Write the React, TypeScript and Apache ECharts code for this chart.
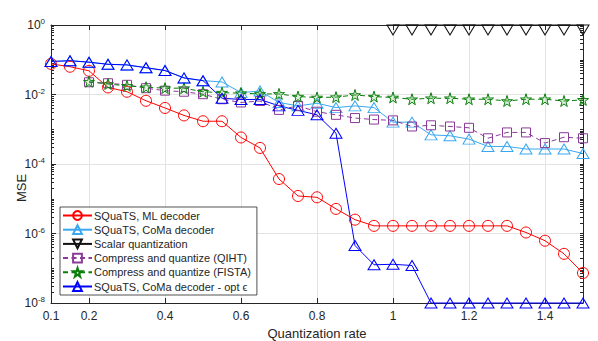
import React, { useEffect, useRef } from "react";
import * as echarts from "echarts";

const xFull = [0.1, 0.15, 0.2, 0.25, 0.3, 0.35, 0.4, 0.45, 0.5, 0.55, 0.6, 0.65, 0.7, 0.75, 0.8, 0.85, 0.9, 0.95, 1.0, 1.05, 1.1, 1.15, 1.2, 1.25, 1.3, 1.35, 1.4, 1.45, 1.5];
const xFrom02 = xFull.slice(2);
const xScalar = [1.0, 1.05, 1.1, 1.15, 1.2, 1.25, 1.3, 1.35, 1.4, 1.45, 1.5];

const mlDecoder = [0.076, 0.063, 0.048, 0.016, 0.012, 0.0066, 0.0041, 0.0025, 0.0017, 0.0017, 5.8e-4, 2.9e-4, 3.7e-5, 1.2e-5, 1.1e-5, 5.1e-6, 2.5e-6, 1.66e-6, 1.66e-6, 1.66e-6, 1.66e-6, 1.66e-6, 1.66e-6, 1.66e-6, 1.66e-6, 1.07e-6, 6.2e-7, 2.6e-7, 7.3e-8];
const comaDecoder = [0.089, 0.094, 0.085, 0.074, 0.071, 0.059, 0.049, 0.030, 0.025, 0.023, 0.0113, 0.0126, 0.0059, 0.0047, 0.0056, 0.0042, 0.0047, 0.0042, 0.0016, 0.0016, 6.9e-4, 6.5e-4, 5.2e-4, 3.2e-4, 3.2e-4, 2.7e-4, 2.7e-4, 2.7e-4, 2.0e-4];
const scalarQuant = [1, 1, 1, 1, 1, 1, 1, 1, 1, 1, 1];
const qiht = [0.0225, 0.0211, 0.019, 0.0152, 0.0129, 0.012, 0.0102, 0.0073, 0.0059, 0.0065, 0.0036, 0.0047, 0.0032, 0.0026, 0.0021, 0.0019, 0.0018, 0.0012, 0.0013, 0.0012, 0.0011, 5.5e-4, 8.1e-4, 8.1e-4, 4.0e-4, 5.9e-4, 5.5e-4];
const fista = [0.0234, 0.020, 0.0177, 0.0162, 0.0152, 0.0152, 0.012, 0.0113, 0.0109, 0.0104, 0.0104, 0.0087, 0.0082, 0.0084, 0.0097, 0.0087, 0.0082, 0.0073, 0.0078, 0.0078, 0.0073, 0.0073, 0.0065, 0.0073, 0.0073, 0.0065, 0.007];
const comaOpt = [0.089, 0.094, 0.085, 0.074, 0.071, 0.059, 0.049, 0.030, 0.025, 0.0078, 0.0072, 0.0072, 0.0047, 0.0035, 0.0026, 7.7e-4, 4.5e-7, 1.26e-7, 1.3e-7, 1.2e-7, 1e-8, 1e-8, 1e-8, 1e-8, 1e-8, 1e-8, 1e-8, 1e-8, 1e-8];

const xLabelValues = [0.1, 0.2, 0.4, 0.6, 0.8, 1.0, 1.2, 1.4];
const xTickValues = [0.2, 0.4, 0.6, 0.8, 1.0, 1.2, 1.4];
const yAxisTitle = "MSE";

const seriesNames = [
  "SQuaTS, ML decoder",
  "SQuaTS, CoMa decoder",
  "Scalar quantization",
  "Compress and quantize (QIHT)",
  "Compress and quantize (FISTA)",
  "SQuaTS, CoMa decoder - opt \u03f5",
];

const FONT = "'Liberation Sans', Arial, Helvetica, sans-serif";
const TEXT = "#262626";
const STAR = "path://M50,0 L61,35 L98,35 L68,57 L79,91 L50,70 L21,91 L32,57 L2,35 L39,35 Z";
const DOWN_TRI = "path://M0,0 L12,0 L6,10 Z";

function pairs(xs: number[], ys: number[]) {
  return xs.map((x, i) => [x, ys[i]]);
}

function minorLogTicks(): number[] {
  const out: number[] = [];
  for (let d = -8; d < 0; d++) {
    for (let k = 2; k <= 10; k++) {
      const v = Math.log10(k * Math.pow(10, d));
      if (k === 10 && (d + 1) % 2 === 0) continue;
      out.push(v);
    }
  }
  return out;
}

function mkSeries(name: string, data: number[][], color: string, symbol: string, size: any, dashed: boolean, fill = "transparent", extra: any = {}) {
  return {
    name,
    type: "line",
    data,
    xAxisIndex: 0,
    yAxisIndex: 0,
    symbol,
    symbolSize: size,
    showAllSymbol: true,
    clip: false,
    lineStyle: { color, width: 1, type: dashed ? [5, 3.5] : "solid" },
    itemStyle: { color: fill, borderColor: color, borderWidth: 1 },
    emphasis: { disabled: true },
    ...extra,
  };
}

export default function App() {
  const ref = useRef<HTMLDivElement>(null);
  useEffect(() => {
    document.body.style.margin = "0";
    if (!ref.current) return;
    const chart = echarts.init(ref.current, undefined, { renderer: "svg" });
    const minor = minorLogTicks();
    const option: any = {
      animation: false,
      backgroundColor: "#ffffff",
      textStyle: { fontFamily: FONT },
      grid: { left: 51, right: 15, top: 25, bottom: 38, containLabel: false, outerBoundsMode: "none" },
      graphic: [
        {
          type: "text",
          x: 21,
          y: 188,
          rotation: Math.PI / 2,
          style: { text: yAxisTitle, fontSize: 13, fontFamily: FONT, fill: TEXT, align: "center", verticalAlign: "middle" },
        },
      ],
      legend: {
        orient: "vertical",
        left: 60,
        top: 207,
        data: seriesNames,
        itemWidth: 29,
        itemHeight: 11,
        itemGap: 3.2,
        padding: [3, 6, 3, 2],
        backgroundColor: "#ffffff",
        borderColor: TEXT,
        borderWidth: 0.8,
        borderRadius: 0,
        textStyle: { fontSize: 11, color: TEXT, fontFamily: FONT, padding: [0, 0, 0, -3] },
      },
      xAxis: [
        {
          type: "value",
          min: 0.1,
          max: 1.5,
          name: "Quantization rate",
          nameLocation: "middle",
          nameGap: 24,
          nameMoveOverlap: false,
          nameTextStyle: { fontSize: 13, color: TEXT, fontFamily: FONT },
          axisLine: { show: true, onZero: false, lineStyle: { color: TEXT, width: 1 } },
          axisTick: { show: true, inside: true, length: 5, customValues: xTickValues, lineStyle: { color: TEXT } },
          axisLabel: { customValues: xLabelValues, fontSize: 12, color: TEXT, margin: 7, fontFamily: FONT, formatter: (v: number) => String(Math.round(v * 10) / 10) },
          splitLine: { show: true, lineStyle: { color: "#e3e3e3", width: 1 } },
        },
        {
          type: "value",
          min: 0.1,
          max: 1.5,
          position: "top",
          axisLine: { show: true, onZero: false, lineStyle: { color: TEXT, width: 1 } },
          axisTick: { show: true, inside: true, length: 5, customValues: xTickValues, lineStyle: { color: TEXT } },
          axisLabel: { show: false },
          splitLine: { show: false },
        },
      ],
      yAxis: [
        {
          type: "log",
          logBase: 10,
          min: 1e-8,
          max: 1,
          interval: 2,
          axisLine: { show: true, lineStyle: { color: TEXT, width: 1 } },
          axisTick: { show: true, inside: true, length: 5, lineStyle: { color: TEXT } },
          axisLabel: {
            fontSize: 12,
            color: TEXT,
            margin: 6,
            fontFamily: FONT,
            formatter: (v: number) => "{b|10}{s|" + Math.round(Math.log10(v)) + "}",
            rich: {
              b: { fontSize: 12, color: TEXT, fontFamily: FONT },
              s: { fontSize: 8, color: TEXT, fontFamily: FONT, padding: [0, 0, 7, 0] },
            },
          },
          splitLine: { show: true, lineStyle: { color: "#e3e3e3", width: 1 } },
        },
        {
          type: "value",
          min: -8,
          max: 0,
          position: "left",
          axisLine: { show: false },
          axisTick: { show: true, inside: true, length: 3, customValues: minor, lineStyle: { color: TEXT } },
          axisLabel: { show: false },
          splitLine: { show: false },
        },
        {
          type: "value",
          min: -8,
          max: 0,
          position: "right",
          axisLine: { show: true, lineStyle: { color: TEXT, width: 1 } },
          axisTick: { show: true, inside: true, length: 3, customValues: minor.concat([-8, -6, -4, -2, 0]), lineStyle: { color: TEXT } },
          axisLabel: { show: false },
          splitLine: { show: false },
        },
      ],
      series: [
        mkSeries(seriesNames[0], pairs(xFull, mlDecoder), "#ff0000", "circle", 11, false),
        mkSeries(seriesNames[1], pairs(xFull, comaDecoder), "#3aa8f0", "triangle", [12, 10], false),
        mkSeries(seriesNames[2], pairs(xScalar, scalarQuant), "#111111", DOWN_TRI, [12, 10], false, "transparent", { symbolOffset: [0, 5] }),
        mkSeries(seriesNames[3], pairs(xFrom02, qiht), "#8a3a98", "rect", 9, true),
        mkSeries(seriesNames[4], pairs(xFrom02, fista), "#0a7d0a", STAR, 11, true, "rgba(80,190,80,0.18)"),
        mkSeries(seriesNames[5], pairs(xFull, comaOpt), "#0000ff", "triangle", [12, 10], false),
      ],
    };
    chart.setOption(option);
    return () => chart.dispose();
  }, []);
  return <div ref={ref} style={{ width: 598, height: 341 }} />;
}
